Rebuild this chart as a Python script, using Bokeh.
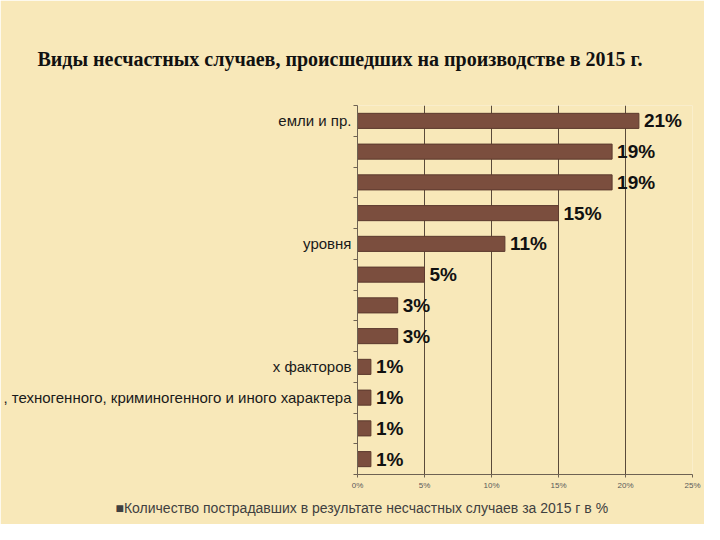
from bokeh.plotting import figure
from bokeh.models import Range1d, FixedTicker, ColumnDataSource, Title
from bokeh.core.properties import value
from bokeh.embed import file_html
from bokeh.resources import INLINE

# ---- data (top to bottom) ----
categories = ["емли и пр.", "", "", "", "уровня", "", "", "",
              "х факторов", ", техногенного, криминогенного и иного характера", "", ""]
values = [21, 19, 19, 15, 11, 5, 3, 3, 1, 1, 1, 1]
value_labels = ["21%", "19%", "19%", "15%", "11%", "5%", "3%", "3%", "1%", "1%", "1%", "1%"]
x_ticks = [0, 5, 10, 15, 20, 25]
x_tick_labels = ["0%", "5%", "10%", "15%", "20%", "25%"]
title_text = "Виды несчастных случаев, происшедших на производстве в 2015 г."
series_name = "Количество пострадавших в результате несчастных случаев за 2015 г в %"

n = len(categories)
ypos = [n - 0.5 - i for i in range(n)]
src = ColumnDataSource(dict(y=ypos, v=values, lab=value_labels))

BG = "#F8E8B9"
BAR = "#7B4E3E"

p = figure(width=704, height=524, output_backend="svg", toolbar_location=None,
           x_range=Range1d(0, 25), y_range=Range1d(0, n),
           min_border_left=355, min_border_right=12, min_border_top=105,
           min_border_bottom=50, title=title_text)
p.background_fill_color = BG
p.border_fill_color = BG
p.outline_line_color = None

p.title.align = "left"
p.title.offset = -320
p.title.standoff = 72
p.title.text_font = "Liberation Serif"
p.title.text_font_size = "20px"
p.title.text_font_style = "bold"
p.title.text_color = "#111111"

bars = p.hbar(y="y", right="v", left=0, height=0.49, source=src,
              fill_color=BAR, line_color="#5C3A2E", line_width=1)

p.text(x="v", y="y", text="lab", source=src, x_offset=5,
       text_baseline="middle", text_align="left",
       text_font=value("Liberation Sans"), text_font_size="19px",
       text_font_style="bold", text_color="#111111")

p.xaxis.ticker = FixedTicker(ticks=x_ticks)
p.xaxis.major_label_overrides = {t: l for t, l in zip(x_ticks, x_tick_labels)}
p.xaxis.major_label_text_font = "Liberation Sans"
p.xaxis.major_label_text_font_size = "8px"
p.xaxis.major_label_text_color = "#595959"
p.xaxis.axis_line_color = "#6E6253"
p.xaxis.major_tick_line_color = "#6E6253"
p.xaxis.major_tick_out = 3
p.xaxis.major_tick_in = 0
p.xaxis.minor_tick_line_color = None
p.xaxis.major_label_standoff = 3

p.yaxis.ticker = FixedTicker(ticks=ypos, minor_ticks=list(range(n + 1)))
p.yaxis.major_label_overrides = {y: c for y, c in zip(ypos, categories)}
p.yaxis.major_label_text_font = "Liberation Sans"
p.yaxis.major_label_text_font_size = "15px"
p.yaxis.major_label_text_color = "#1A1A1A"
p.yaxis.major_tick_line_color = None
p.yaxis.minor_tick_line_color = "#6E6253"
p.yaxis.minor_tick_out = 4
p.yaxis.minor_tick_in = 0
p.yaxis.axis_line_color = "#6E6253"
p.yaxis.major_label_standoff = 0

p.xgrid.ticker = FixedTicker(ticks=x_ticks[1:])
p.xgrid.grid_line_color = "#5A4A3A"
p.xgrid.grid_line_width = 1
p.ygrid.grid_line_color = None

# legend line below the axis
p.add_layout(Title(text="■" + series_name, align="left", offset=-242,
                   standoff=10, text_font="Liberation Sans",
                   text_font_size="14px", text_font_style="normal",
                   text_color="#404040"), "below")

open("out.html", "w").write(file_html(p, INLINE))
